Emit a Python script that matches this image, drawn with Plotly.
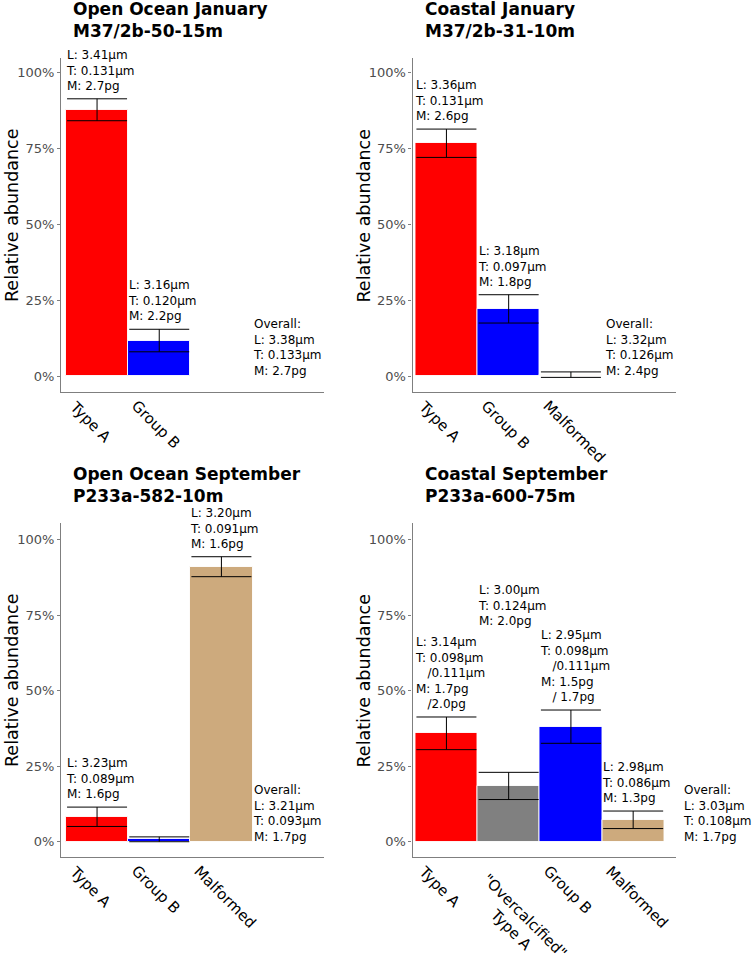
import plotly.graph_objects as go

FONT = "DejaVu Sans"
W, H = 755, 962

# ---------------- data ----------------
p1_title = ["Open Ocean January", "M37/2b-50-15m"]
p1_cats = ["Type A", "Group B"]
p1_vals = [87.6, 11.8]
p1_errs = [3.6, 3.7]
p1_labels = ["L: 3.41µm<br>T: 0.131µm<br>M: 2.7pg",
             "L: 3.16µm<br>T: 0.120µm<br>M: 2.2pg"]
p1_overall = "Overall:<br>L: 3.38µm<br>T: 0.133µm<br>M: 2.7pg"

p2_title = ["Coastal January", "M37/2b-31-10m"]
p2_cats = ["Type A", "Group B", "Malformed"]
p2_vals = [76.6, 22.2, 0.6]
p2_errs = [4.65, 4.65, 0.9]
p2_labels = ["L: 3.36µm<br>T: 0.131µm<br>M: 2.6pg",
             "L: 3.18µm<br>T: 0.097µm<br>M: 1.8pg",
             ""]
p2_overall = "Overall:<br>L: 3.32µm<br>T: 0.126µm<br>M: 2.4pg"

p3_title = ["Open Ocean September", "P233a-582-10m"]
p3_cats = ["Type A", "Group B", "Malformed"]
p3_vals = [8.3, 0.85, 91.0]
p3_errs = [3.2, 0.8, 3.3]
p3_labels = ["L: 3.23µm<br>T: 0.089µm<br>M: 1.6pg",
             "",
             "L: 3.20µm<br>T: 0.091µm<br>M: 1.6pg"]
p3_overall = "Overall:<br>L: 3.21µm<br>T: 0.093µm<br>M: 1.7pg"

NB = "\u00a0\u00a0\u00a0"
p4_title = ["Coastal September", "P233a-600-75m"]
p4_cats = ["Type A", "\"Overcalcified\"<br>Type A", "Group B", "Malformed"]
p4_vals = [35.9, 18.5, 38.1, 7.3]
p4_errs = [5.4, 4.5, 5.5, 2.9]
p4_labels = ["L: 3.14µm<br>T: 0.098µm<br>" + NB + "/0.111µm<br>M: 1.7pg<br>" + NB + "/2.0pg",
             "L: 3.00µm<br>T: 0.124µm<br>M: 2.0pg",
             "L: 2.95µm<br>T: 0.098µm<br>" + NB + "/0.111µm<br>M: 1.5pg<br>" + NB + "/ 1.7pg",
             "L: 2.98µm<br>T: 0.086µm<br>M: 1.3pg"]
p4_overall = "Overall:<br>L: 3.03µm<br>T: 0.108µm<br>M: 1.7pg"

cat_colors = {"Type A": "#FF0000", "Group B": "#0000FF", "Malformed": "#CDAA7D",
              "\"Overcalcified\"<br>Type A": "#808080"}

y_ticks = [0, 25, 50, 75, 100]
y_ticktext = ["0%", "25%", "50%", "75%", "100%"]

# ---------------- layout geometry (pixels) ----------------
col_px = [(61, 324), (412.5, 675.5)]
row_px = [(58, 392), (523, 857)]
x_ranges = [[0.42, 4.65], [0.455, 4.68]]
y_ranges = [[-5.1, 104.6], [-5.0, 105.45]]
overall_x = [3.47, 3.52, 3.47, 4.77]
label_y_override = [{}, {}, {}, {1: 68.6}]

panels = [
    (p1_title, p1_cats, p1_vals, p1_errs, p1_labels, p1_overall),
    (p2_title, p2_cats, p2_vals, p2_errs, p2_labels, p2_overall),
    (p3_title, p3_cats, p3_vals, p3_errs, p3_labels, p3_overall),
    (p4_title, p4_cats, p4_vals, p4_errs, p4_labels, p4_overall),
]

fig = go.Figure()
annotations = []
layout_axes = {}

for k, (title, cats, vals, errs, labels, overall) in enumerate(panels):
    r, c = divmod(k, 2)
    n = k + 1
    xa = "x" if n == 1 else f"x{n}"
    ya = "y" if n == 1 else f"y{n}"
    xs = list(range(1, len(cats) + 1))
    fig.add_trace(go.Bar(
        x=xs, y=vals, width=1.0, xaxis=xa, yaxis=ya,
        marker=dict(color=[cat_colors[cn] for cn in cats],
                    line=dict(color="rgba(255,255,255,0.9)", width=1)),
        error_y=dict(type="data", array=errs, color="black", thickness=1, width=30),
        showlegend=False, hoverinfo="skip",
    ))
    x0, x1 = col_px[c]
    y0, y1 = row_px[r]
    layout_axes["xaxis" if n == 1 else f"xaxis{n}"] = dict(
        domain=[x0 / W, x1 / W], range=x_ranges[c], anchor=ya,
        showline=True, linecolor="#7F7F7F", linewidth=1.2,
        showgrid=False, zeroline=False, showticklabels=False, ticks="",
        fixedrange=True)
    layout_axes["yaxis" if n == 1 else f"yaxis{n}"] = dict(
        domain=[1 - y1 / H, 1 - y0 / H], range=y_ranges[r], anchor=xa,
        showline=True, linecolor="#7F7F7F", linewidth=1.2,
        showgrid=False, zeroline=False,
        tickvals=y_ticks, ticktext=y_ticktext, ticks="outside", ticklen=3,
        tickcolor="#7F7F7F", tickfont=dict(family=FONT, size=13, color="#4D4D4D"),
        fixedrange=True)

    # title
    annotations.append(dict(
        text="<b>" + title[0] + "</b><br><b>" + title[1] + "</b>",
        xref="paper", yref="paper", x=(x0 + 10) / W, y=1 - (y0 - 38) / H,
        xanchor="left", yanchor="middle", align="left", showarrow=False,
        font=dict(family=FONT, size=17, color="black")))
    # y title
    annotations.append(dict(
        text="Relative abundance", textangle=-90,
        xref="paper", yref="paper", x=(x0 - 49) / W, y=1 - ((y0 + y1) / 2 - 9) / H,
        xanchor="center", yanchor="middle", showarrow=False,
        font=dict(family=FONT, size=17.5, color="black")))
    # x category labels
    for i, cn in enumerate(cats):
        multi = "<br>" in cn
        annotations.append(dict(
            text=cn, textangle=45, xref=xa, yref=f"{ya} domain",
            x=xs[i], y=0,
            xshift=-47 if multi else -34, yshift=-10 if multi else -2.5,
            xanchor="left", yanchor="top", align="center", showarrow=False,
            font=dict(family=FONT, size=15, color="black")))
    # bar labels
    for i, lab in enumerate(labels):
        if not lab:
            continue
        ly = label_y_override[k].get(i, vals[i] + errs[i])
        annotations.append(dict(
            text=lab, xref=xa, yref=ya, x=xs[i] - 0.5, y=ly, xshift=-2, yshift=4,
            xanchor="left", yanchor="bottom", align="left", showarrow=False,
            font=dict(family=FONT, size=12, color="black")))
    # overall
    xr = x_ranges[c]
    annotations.append(dict(
        text=overall, xref=f"{xa} domain", yref=ya,
        x=(overall_x[k] - xr[0]) / (xr[1] - xr[0]), y=0, yshift=-4,
        xanchor="left", yanchor="bottom", align="left", showarrow=False,
        font=dict(family=FONT, size=12, color="black")))

fig.update_layout(
    width=W, height=H, margin=dict(l=0, r=0, t=0, b=0),
    paper_bgcolor="white", plot_bgcolor="white",
    bargap=0, annotations=annotations,
    font=dict(family=FONT),
    **layout_axes)

fig.write_html("out.html", config={"displayModeBar": False},
               post_script="document.body.style.margin='0px';document.body.style.overflow='hidden';")
